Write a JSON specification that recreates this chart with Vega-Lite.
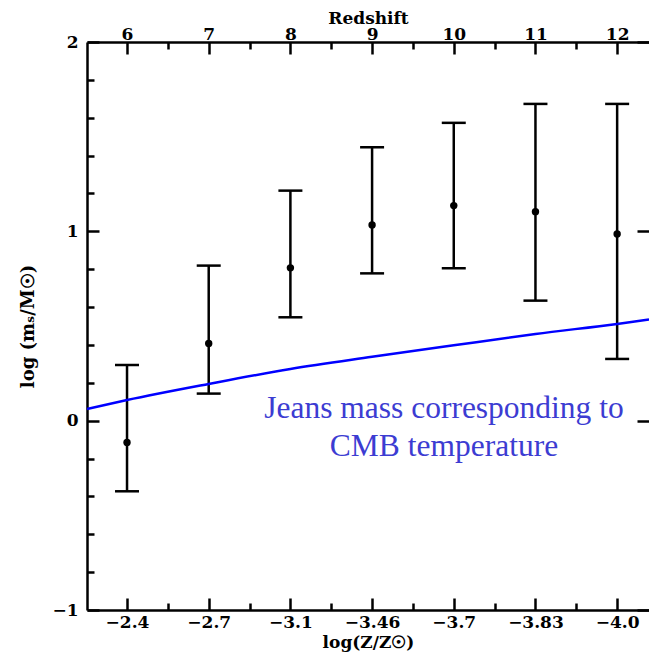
{
  "$schema": "https://vega.github.io/schema/vega-lite/v6.json",
  "autosize": {"type": "none"},
  "padding": {"left": 87, "top": 42, "right": 0, "bottom": 48},
  "width": 562,
  "height": 568,
  "background": "white",
  "config": {
    "view": {"stroke": null},
    "axis": {
      "domainColor": "black",
      "domainWidth": 2.5,
      "tickColor": "black",
      "tickWidth": 2.5,
      "grid": false,
      "labelFont": "DejaVu Serif",
      "labelFontWeight": "bold",
      "labelFontSize": 17,
      "labelColor": "black",
      "labelOverlap": false,
      "labelBound": false,
      "labelFlush": false,
      "titleFont": "DejaVu Serif",
      "titleFontWeight": "bold",
      "titleFontSize": 17,
      "titleColor": "black"
    }
  },
  "datasets": {
    "pts": [
      {"z": 6, "m": -0.115, "lo": -0.373, "hi": 0.294},
      {"z": 7, "m": 0.408, "lo": 0.143, "hi": 0.819},
      {"z": 8, "m": 0.807, "lo": 0.546, "hi": 1.215},
      {"z": 9, "m": 1.034, "lo": 0.778, "hi": 1.444},
      {"z": 10, "m": 1.136, "lo": 0.805, "hi": 1.573},
      {"z": 11, "m": 1.104, "lo": 0.634, "hi": 1.673},
      {"z": 12, "m": 0.986, "lo": 0.326, "hi": 1.673}
    ],
    "jeans": [
      {"z": 5.51, "j": 0.062},
      {"z": 6, "j": 0.109},
      {"z": 7, "j": 0.194},
      {"z": 8, "j": 0.273},
      {"z": 9, "j": 0.337},
      {"z": 10, "j": 0.398},
      {"z": 11, "j": 0.458},
      {"z": 12, "j": 0.511},
      {"z": 12.39, "j": 0.534}
    ],
    "note": [
      {"z": 9.88, "y": 0.016, "label": "Jeans mass corresponding to\nCMB temperature"}
    ]
  },
  "resolve": {"axis": {"x": "independent", "y": "independent"}},
  "layer": [
    {
      "data": {"name": "pts"},
      "mark": {"type": "rule", "color": "black", "strokeWidth": 2.5},
      "encoding": {
        "x": {"field": "z", "type": "quantitative",
          "scale": {"domain": [5.51, 12.39], "nice": false, "zero": false},
          "axis": {"orient": "bottom", "values": [6, 7, 8, 9, 10, 11, 12], "tickSize": -12, "labelPadding": 16,
            "labelExpr": "datum.value==6?'−2.4':datum.value==7?'−2.7':datum.value==8?'−3.1':datum.value==9?'−3.46':datum.value==10?'−3.7':datum.value==11?'−3.83':'−4.0'",
            "title": "log(Z/Z☉)", "titlePadding": 4}},
        "y": {"field": "lo", "type": "quantitative",
          "scale": {"domain": [-1, 2], "nice": false, "zero": false},
          "axis": {"orient": "left", "values": [-1, 0, 1, 2], "tickSize": -12, "labelPadding": 21,
            "title": "log (mₛ/M☉)", "titleFontSize": 18, "titlePadding": 14}},
        "y2": {"field": "hi"}
      }
    },
    {
      "data": {"name": "pts"},
      "mark": {"type": "tick", "color": "black", "opacity": 1, "orient": "horizontal", "size": 24, "thickness": 2.5},
      "encoding": {
        "x": {"field": "z", "type": "quantitative",
          "axis": {"orient": "top", "values": [6, 7, 8, 9, 10, 11, 12], "tickSize": -12, "labelPadding": 15,
            "labelBaseline": "alphabetic", "format": "d",
            "title": "Redshift", "titlePadding": -2}},
        "y": {"field": "lo", "type": "quantitative",
          "axis": {"orient": "right", "values": [-1, 0, 1, 2], "tickSize": -12, "labels": false, "domain": false, "title": null}}
      }
    },
    {
      "data": {"name": "pts"},
      "mark": {"type": "tick", "color": "black", "opacity": 1, "orient": "horizontal", "size": 24, "thickness": 2.5},
      "encoding": {
        "x": {"field": "z", "type": "quantitative",
          "axis": {"orient": "bottom", "values": [6.5, 7.5, 8.5, 9.5, 10.5, 11.5], "tickSize": -7, "labels": false, "domain": false, "title": null}},
        "y": {"field": "hi", "type": "quantitative",
          "axis": {"orient": "left", "values": [-0.8, -0.6, -0.4, -0.2, 0.2, 0.4, 0.6, 0.8, 1.2, 1.4, 1.6, 1.8], "tickSize": -7, "labels": false, "domain": false, "title": null}}
      }
    },
    {
      "data": {"name": "pts"},
      "mark": {"type": "point", "filled": true, "color": "black", "opacity": 1, "size": 55},
      "encoding": {
        "x": {"field": "z", "type": "quantitative",
          "axis": {"orient": "top", "values": [6.5, 7.5, 8.5, 9.5, 10.5, 11.5], "tickSize": -7, "labels": false, "domain": false, "title": null}},
        "y": {"field": "m", "type": "quantitative", "axis": null}
      }
    },
    {
      "data": {"name": "jeans"},
      "mark": {"type": "line", "color": "#0000ff", "strokeWidth": 2.5, "interpolate": "monotone"},
      "encoding": {
        "x": {"field": "z", "type": "quantitative", "axis": null},
        "y": {"field": "j", "type": "quantitative", "axis": null}
      }
    },
    {
      "data": {"name": "note"},
      "mark": {"type": "text", "font": "Liberation Serif", "fontSize": 31.5, "color": "#3c3cd2", "align": "center", "baseline": "alphabetic", "lineBreak": "\n", "lineHeight": 38},
      "encoding": {
        "x": {"field": "z", "type": "quantitative", "axis": null},
        "y": {"field": "y", "type": "quantitative", "axis": null},
        "text": {"field": "label"}
      }
    }
  ]
}
